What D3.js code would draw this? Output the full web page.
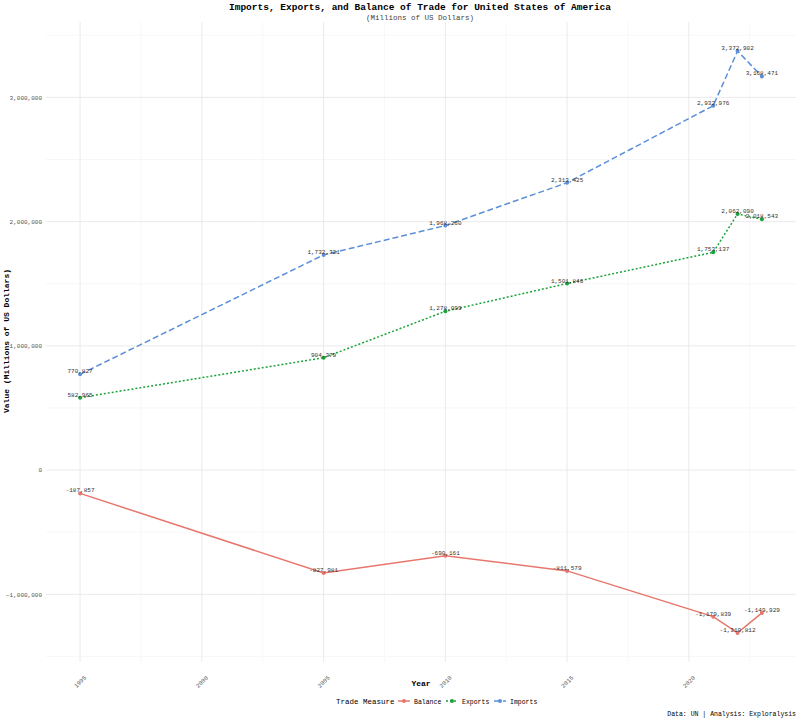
<!DOCTYPE html>
<html><head><meta charset="utf-8">
<script src="https://cdn.jsdelivr.net/npm/d3@7"></script>
<style>body{margin:0;background:#fff}text{font-family:"Liberation Mono","DejaVu Sans Mono",monospace}</style>
</head><body><svg id="c" width="800" height="720"></svg>
<script>
const years=[1995,2005,2010,2015,2021,2022,2023];
const imports=[770827,1732321,1968260,2313425,2932976,3372902,3168471];
const exports=[582965,904379,1278099,1501846,1753137,2062090,2018543];
const balance=[-187857,-827981,-690161,-811579,-1179839,-1310812,-1149929];
const seriesNames=["Balance","Exports","Imports"];
const colors={Balance:"#E8766D",Exports:"#1AA33A",Imports:"#5B8FD8"};
const dashes={Balance:null,Exports:"2,2",Imports:"6,3"};
const xTicks=[1995,2000,2005,2010,2015,2020];
const yTicks=[-1000000,0,1000000,2000000,3000000];
const data={Balance:balance,Exports:exports,Imports:imports};

const svg=d3.select("#c");
const L=46,R=796,T=22,B=662;
const x=d3.scaleLinear().domain([1993.6,2024.4]).range([L,R]);
const y=d3.scaleLinear().domain([-1545000,3607000]).range([B,T]);
const g=svg.append("g");
const xm=d3.range(1997.5,2024,5), ym=[-1500000,-500000,500000,1500000,2500000,3500000];
g.selectAll(".xm").data(xm).join("line").attr("x1",d=>x(d)).attr("x2",d=>x(d)).attr("y1",T).attr("y2",B).attr("stroke","#f2f2f2").attr("stroke-width",0.6);
g.selectAll(".ym").data(ym).join("line").attr("y1",d=>y(d)).attr("y2",d=>y(d)).attr("x1",L).attr("x2",R).attr("stroke","#f2f2f2").attr("stroke-width",0.6);
g.selectAll(".xg").data(xTicks).join("line").attr("x1",d=>x(d)).attr("x2",d=>x(d)).attr("y1",T).attr("y2",B).attr("stroke","#e8e8e8").attr("stroke-width",0.9);
g.selectAll(".yg").data(yTicks).join("line").attr("y1",d=>y(d)).attr("y2",d=>y(d)).attr("x1",L).attr("x2",R).attr("stroke","#e8e8e8").attr("stroke-width",0.9);
const fmt=d3.format(",");
const ya=svg.append("g").attr("transform",`translate(${L},0)`).call(d3.axisLeft(y).tickValues(yTicks).tickFormat(fmt).tickSize(0).tickPadding(4));
ya.select(".domain").remove();
ya.selectAll("text").attr("font-size",6).attr("fill","#555");
const xa=svg.append("g").attr("transform",`translate(0,${B})`).call(d3.axisBottom(x).tickValues(xTicks).tickFormat(d3.format("d")).tickSize(0));
xa.select(".domain").remove();
xa.selectAll("text").attr("font-size",6).attr("fill","#555").attr("text-anchor","end").attr("dy",0).attr("transform","translate(4,14) rotate(-45)");
const line=d3.line().x((d,i)=>x(years[i])).y(d=>y(d));
seriesNames.forEach(s=>{
  const vals=data[s];
  svg.append("path").datum(vals).attr("d",line).attr("fill","none").attr("stroke",colors[s]).attr("stroke-width",1.5).attr("stroke-dasharray",dashes[s]);
  svg.selectAll(".p"+s).data(vals).join("circle").attr("cx",(d,i)=>x(years[i])).attr("cy",d=>y(d)).attr("r",2).attr("fill",colors[s]);
  svg.selectAll(".t"+s).data(vals).join("text").attr("x",(d,i)=>x(years[i])).attr("y",d=>y(d)-1).attr("text-anchor","middle").attr("font-size",6).attr("fill","#333").text(d=>fmt(d).replace("−","-"));
});
svg.append("text").attr("x",420).attr("y",10).attr("text-anchor","middle").attr("font-size",9.5).attr("font-weight","bold").text("Imports, Exports, and Balance of Trade for United States of America");
svg.append("text").attr("x",420).attr("y",20).attr("text-anchor","middle").attr("font-size",7.5).attr("fill","#444").text("(Millions of US Dollars)");
svg.append("text").attr("x",421).attr("y",686).attr("text-anchor","middle").attr("font-size",8).attr("font-weight","bold").text("Year");
svg.append("text").attr("transform","translate(9,341) rotate(-90)").attr("text-anchor","middle").attr("font-size",8).attr("font-weight","bold").text("Value (Millions of US Dollars)");
const lg=svg.append("g").attr("transform","translate(336,701)");
lg.append("text").attr("x",0).attr("y",3).attr("font-size",7.5).text("Trade Measure");
const lx=[62,110,158];
seriesNames.forEach((s,i)=>{
  const e=lg.append("g").attr("transform",`translate(${lx[i]},0)`);
  e.append("line").attr("x1",0).attr("x2",12).attr("stroke",colors[s]).attr("stroke-width",1.5).attr("stroke-dasharray",dashes[s]);
  e.append("circle").attr("cx",6).attr("r",2).attr("fill",colors[s]);
  e.append("text").attr("x",16).attr("y",2.5).attr("font-size",6.5).text(s);
});
svg.append("text").attr("x",796).attr("y",716).attr("text-anchor","end").attr("font-size",6.5).text("Data: UN | Analysis: Exploralysis");
</script></body></html>
